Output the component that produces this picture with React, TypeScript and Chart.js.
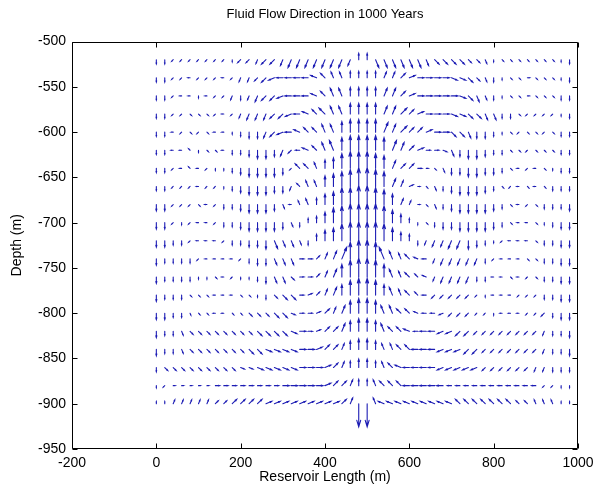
import React, { useEffect, useRef } from 'react';
import { Chart, registerables } from 'chart.js';

Chart.register(...registerables);

const TITLE = 'Fluid Flow Direction in 1000 Years';
const X_LABEL = 'Reservoir Length (m)';
const Y_LABEL = 'Depth (m)';

const X_TICKS = [-200, 0, 200, 400, 600, 800, 1000];
const Y_TICKS = [-500, -550, -600, -650, -700, -750, -800, -850, -900, -950];

// grid of arrow tails (m)
const X_GRID = [
  0, 20, 40, 60, 80, 100, 120, 140, 160, 180,
  200, 220, 240, 260, 280, 300, 320, 340, 360, 380,
  400, 420, 440, 460, 480, 500, 520, 540, 560, 580,
  600, 620, 640, 660, 680, 700, 720, 740, 760, 780,
  800, 820, 840, 860, 880, 900, 920, 940, 960, 980,
];
const Y_GRID = [
  -520, -540, -560, -580, -600, -620, -640, -660, -680, -700,
  -720, -740, -760, -780, -800, -820, -840, -860, -880, -900,
];

// Arrow direction per grid cell:
// hex digit k = k * 22.5 degrees counter-clockwise from east (0=E, 4=N, 8=W, c=S)
const DIR_ROWS = [
  'ccaaa aaaac aabaa bbbbb bbbb4 4dddd dddee eeeed ceeee eeecc',
  'ccaa8 aaa8a bbaa9 88887 65544 44332 10000 ffeed ccee0 eeecc',
  'cca88 c8aab cbbaa 98887 65544 44332 10000 0fedd ccee0 eeecc',
  'ccaae eea8a bbbba a9876 65544 44332 21000 ffeed dccea aaacc',
  'cc8ae ae88c cccba 98766 55444 44332 22100 eedcc cceae eaecc',
  'cc886 cee8c ccccc ba876 55444 44433 2100f dcccc cceea eeecc',
  'cca86 8accc ccccc ca665 44444 44432 200ed ccccc cce8a 8eccc',
  'ccaaa 8aacc ccccc cb655 44444 44433 10edc ccccc cea8e 8eccc',
  'ccaaa e8acc ccccc d8554 44444 44443 30edc ccccc cce8a ecccc',
  'ccaca 88acc ccccc cdc44 44444 44444 4cecc ccccc cce88 ecccc',
  'cccca 888ac ccccd dddc4 44444 44444 4cbbb bbccc ca888 ecccc',
  'ccccc a8888 acccd dd002 33344 44555 678bb bbbbc a888e ecccc',
  'ccccc cce8a ccccd de002 33444 44455 667bb bbbcc 88e8a ecccc',
  'cccce ee888 eecce ee012 33444 44455 668aa aaaac 888aa acccc',
  'ccccd ee88e eeeee ef001 23344 44556 67889 aaaaa c888a aaccc',
  'cccde eeeee eeeee ef001 22344 44566 78889 9aaaa aaaaa abccc',
  'cccde eeeee eeeff ff001 22344 44556 68889 99aaa aaaaa abccc',
  'ceeee eeeee fffff ff000 12344 44567 88889 9999a aaaaa bbccc',
  'ca000 00000 00000 00000 12234 45666 88888 88888 88888 8aacc',
  '44333 33222 22211 11111 1123c c5777 77777 76666 66666 55544',
];

// Arrow magnitude per grid cell (hex digit, relative length)
const MAG_ROWS = [
  '22111 11111 22233 34444 44433 34444 44333 33222 11111 11112',
  '22111 11111 22233 33333 33333 33333 33333 33322 21111 11112',
  '22111 11112 22333 33333 34444 44443 33333 33332 21111 11122',
  '22111 11111 23333 33333 44455 55444 33333 33333 32211 11112',
  '22111 11111 23333 33333 44566 66544 33333 33333 21111 11122',
  '22111 11112 23443 32233 45677 77654 33222 33443 22111 11122',
  '22111 11112 34444 31333 45788 87643 32112 33443 32111 11122',
  '22111 11112 34443 32233 56789 98743 21122 34443 21111 11222',
  '33111 11122 34443 21233 56889 98753 21122 34444 32111 12223',
  '33111 11122 34444 32223 57899 99864 21123 34444 32111 11233',
  '33221 11112 23344 33223 56899 99864 32233 44432 11111 12233',
  '32222 11111 12333 33222 34689 98643 32223 33332 11111 12233',
  '32222 11111 11233 32222 34689 98643 32223 33322 11111 12233',
  '32221 11111 11122 33222 34578 87543 32222 22211 11111 12233',
  '33221 11111 12223 32222 33467 76443 32222 22211 11111 12233',
  '32222 22222 22333 33322 33456 65433 32333 33322 22222 22223',
  '32222 22222 23333 33333 33345 54333 33333 33332 22222 22223',
  '22222 22222 22333 33333 33334 43333 33333 33332 22222 22222',
  '11111 11222 22222 33333 33333 33333 33333 22222 22222 21111',
  '11222 22223 33333 33333 3333b b3333 33333 33333 33322 22211',
];

const FONT_FAMILY = "'Liberation Sans', Arial, Helvetica, sans-serif";
const ARROW_COLOR = 'rgb(28, 28, 180)';
const PX_PER_MAG = 2.1;

type Pt = { x: number; y: number; a: number; m: number };

function buildPoints(): Pt[] {
  const pts: Pt[] = [];
  Y_GRID.forEach((yv, r) => {
    const dirs = DIR_ROWS[r].replace(/\s/g, '');
    const mags = MAG_ROWS[r].replace(/\s/g, '');
    X_GRID.forEach((xv, c) => {
      pts.push({ x: xv, y: yv, a: parseInt(dirs[c], 16), m: parseInt(mags[c], 16) });
    });
  });
  return pts;
}

const quiverPlugin = {
  id: 'quiver',
  afterDatasetsDraw(chart: any) {
    const { ctx, scales } = chart;
    const xs = scales.x;
    const ys = scales.y;
    const data = chart.data.datasets[0].data as Pt[];
    ctx.save();
    ctx.strokeStyle = ARROW_COLOR;
    ctx.lineWidth = 1.1;
    ctx.lineCap = 'round';
    ctx.beginPath();
    const alpha = 0.28;
    const beta = 0.3;
    for (const p of data) {
      const x0 = xs.getPixelForValue(p.x);
      const y0 = ys.getPixelForValue(p.y);
      const L = Math.max(p.m * PX_PER_MAG, 1.5);
      const th = (p.a * Math.PI) / 8;
      const dx = L * Math.cos(th);
      const dy = -L * Math.sin(th);
      const x1 = x0 + dx;
      const y1 = y0 + dy;
      ctx.moveTo(x0, y0);
      ctx.lineTo(x1, y1);
      const hx1 = x1 - alpha * (dx + beta * dy);
      const hy1 = y1 - alpha * (dy - beta * dx);
      const hx2 = x1 - alpha * (dx - beta * dy);
      const hy2 = y1 - alpha * (dy + beta * dx);
      ctx.moveTo(hx1, hy1);
      ctx.lineTo(x1, y1);
      ctx.lineTo(hx2, hy2);
    }
    ctx.stroke();
    ctx.restore();
  },
};

const framePlugin = {
  id: 'frame',
  afterDraw(chart: any) {
    const { ctx, chartArea, scales } = chart;
    const { left, right, top, bottom } = chartArea;
    const L = Math.round(left) + 0.5;
    const R = Math.round(right) - 0.5;
    const T = Math.round(top) + 0.5;
    const B = Math.round(bottom) - 0.5;
    ctx.save();
    ctx.strokeStyle = '#000';
    ctx.lineWidth = 1;
    ctx.beginPath();
    ctx.rect(L, T, R - L, B - T);
    const tl = 5;
    for (const v of X_TICKS) {
      const px = Math.round(scales.x.getPixelForValue(v)) + 0.5;
      ctx.moveTo(px, B);
      ctx.lineTo(px, B - tl);
      ctx.moveTo(px, T);
      ctx.lineTo(px, T + tl);
    }
    for (const v of Y_TICKS) {
      const py = Math.round(scales.y.getPixelForValue(v)) + 0.5;
      ctx.moveTo(L, py);
      ctx.lineTo(L + tl, py);
      ctx.moveTo(R, py);
      ctx.lineTo(R - tl, py);
    }
    ctx.stroke();
    ctx.restore();
  },
};

export default function App() {
  const canvasRef = useRef<HTMLCanvasElement | null>(null);

  useEffect(() => {
    document.body.style.margin = '0';
    const canvas = canvasRef.current;
    if (!canvas) return;
    const tickFont = { family: FONT_FAMILY, size: 14 };
    const chart = new Chart(canvas, {
      type: 'scatter',
      data: {
        datasets: [
          {
            label: 'flow',
            data: buildPoints() as any,
            pointRadius: 0,
            pointHoverRadius: 0,
            showLine: false,
          },
        ],
      },
      options: {
        animation: false,
        responsive: true,
        maintainAspectRatio: false,
        events: [],
        layout: { padding: { left: 0, right: 29, top: 0, bottom: 0 } },
        plugins: {
          legend: { display: false },
          tooltip: { enabled: false },
          title: {
            display: true,
            fullSize: false,
            text: TITLE,
            color: '#000',
            font: { family: FONT_FAMILY, size: 13, weight: 'normal' },
            padding: { top: 7, bottom: 19 },
          },
        },
        scales: {
          x: {
            type: 'linear',
            min: -200,
            max: 1000,
            afterBuildTicks: (s: any) => {
              s.ticks = X_TICKS.map((v) => ({ value: v }));
            },
            afterFit: (s: any) => {
              s.height = 38;
            },
            ticks: {
              color: '#000',
              font: tickFont,
              padding: 6,
              maxRotation: 0,
              autoSkip: false,
              callback: (v: any) => String(v),
            },
            grid: { display: false, drawTicks: false },
            border: { display: false },
            title: {
              display: true,
              text: X_LABEL,
              color: '#000',
              font: tickFont,
              padding: { top: 0, bottom: 1 },
            },
          },
          y: {
            type: 'linear',
            min: -950,
            max: -500,
            afterBuildTicks: (s: any) => {
              s.ticks = Y_TICKS.map((v) => ({ value: v }));
            },
            afterFit: (s: any) => {
              s.width = 72;
            },
            ticks: {
              color: '#000',
              font: tickFont,
              padding: 6,
              autoSkip: false,
              callback: (v: any) => String(v),
            },
            grid: { display: false, drawTicks: false },
            border: { display: false },
            title: {
              display: true,
              text: Y_LABEL,
              color: '#000',
              font: tickFont,
              padding: { top: 9, bottom: 0 },
            },
          },
        },
      } as any,
      plugins: [quiverPlugin, framePlugin],
    });
    return () => chart.destroy();
  }, []);

  return (
    <div style={{ position: 'relative', width: 607, height: 487, background: '#fff' }}>
      <canvas ref={canvasRef} />
    </div>
  );
}
